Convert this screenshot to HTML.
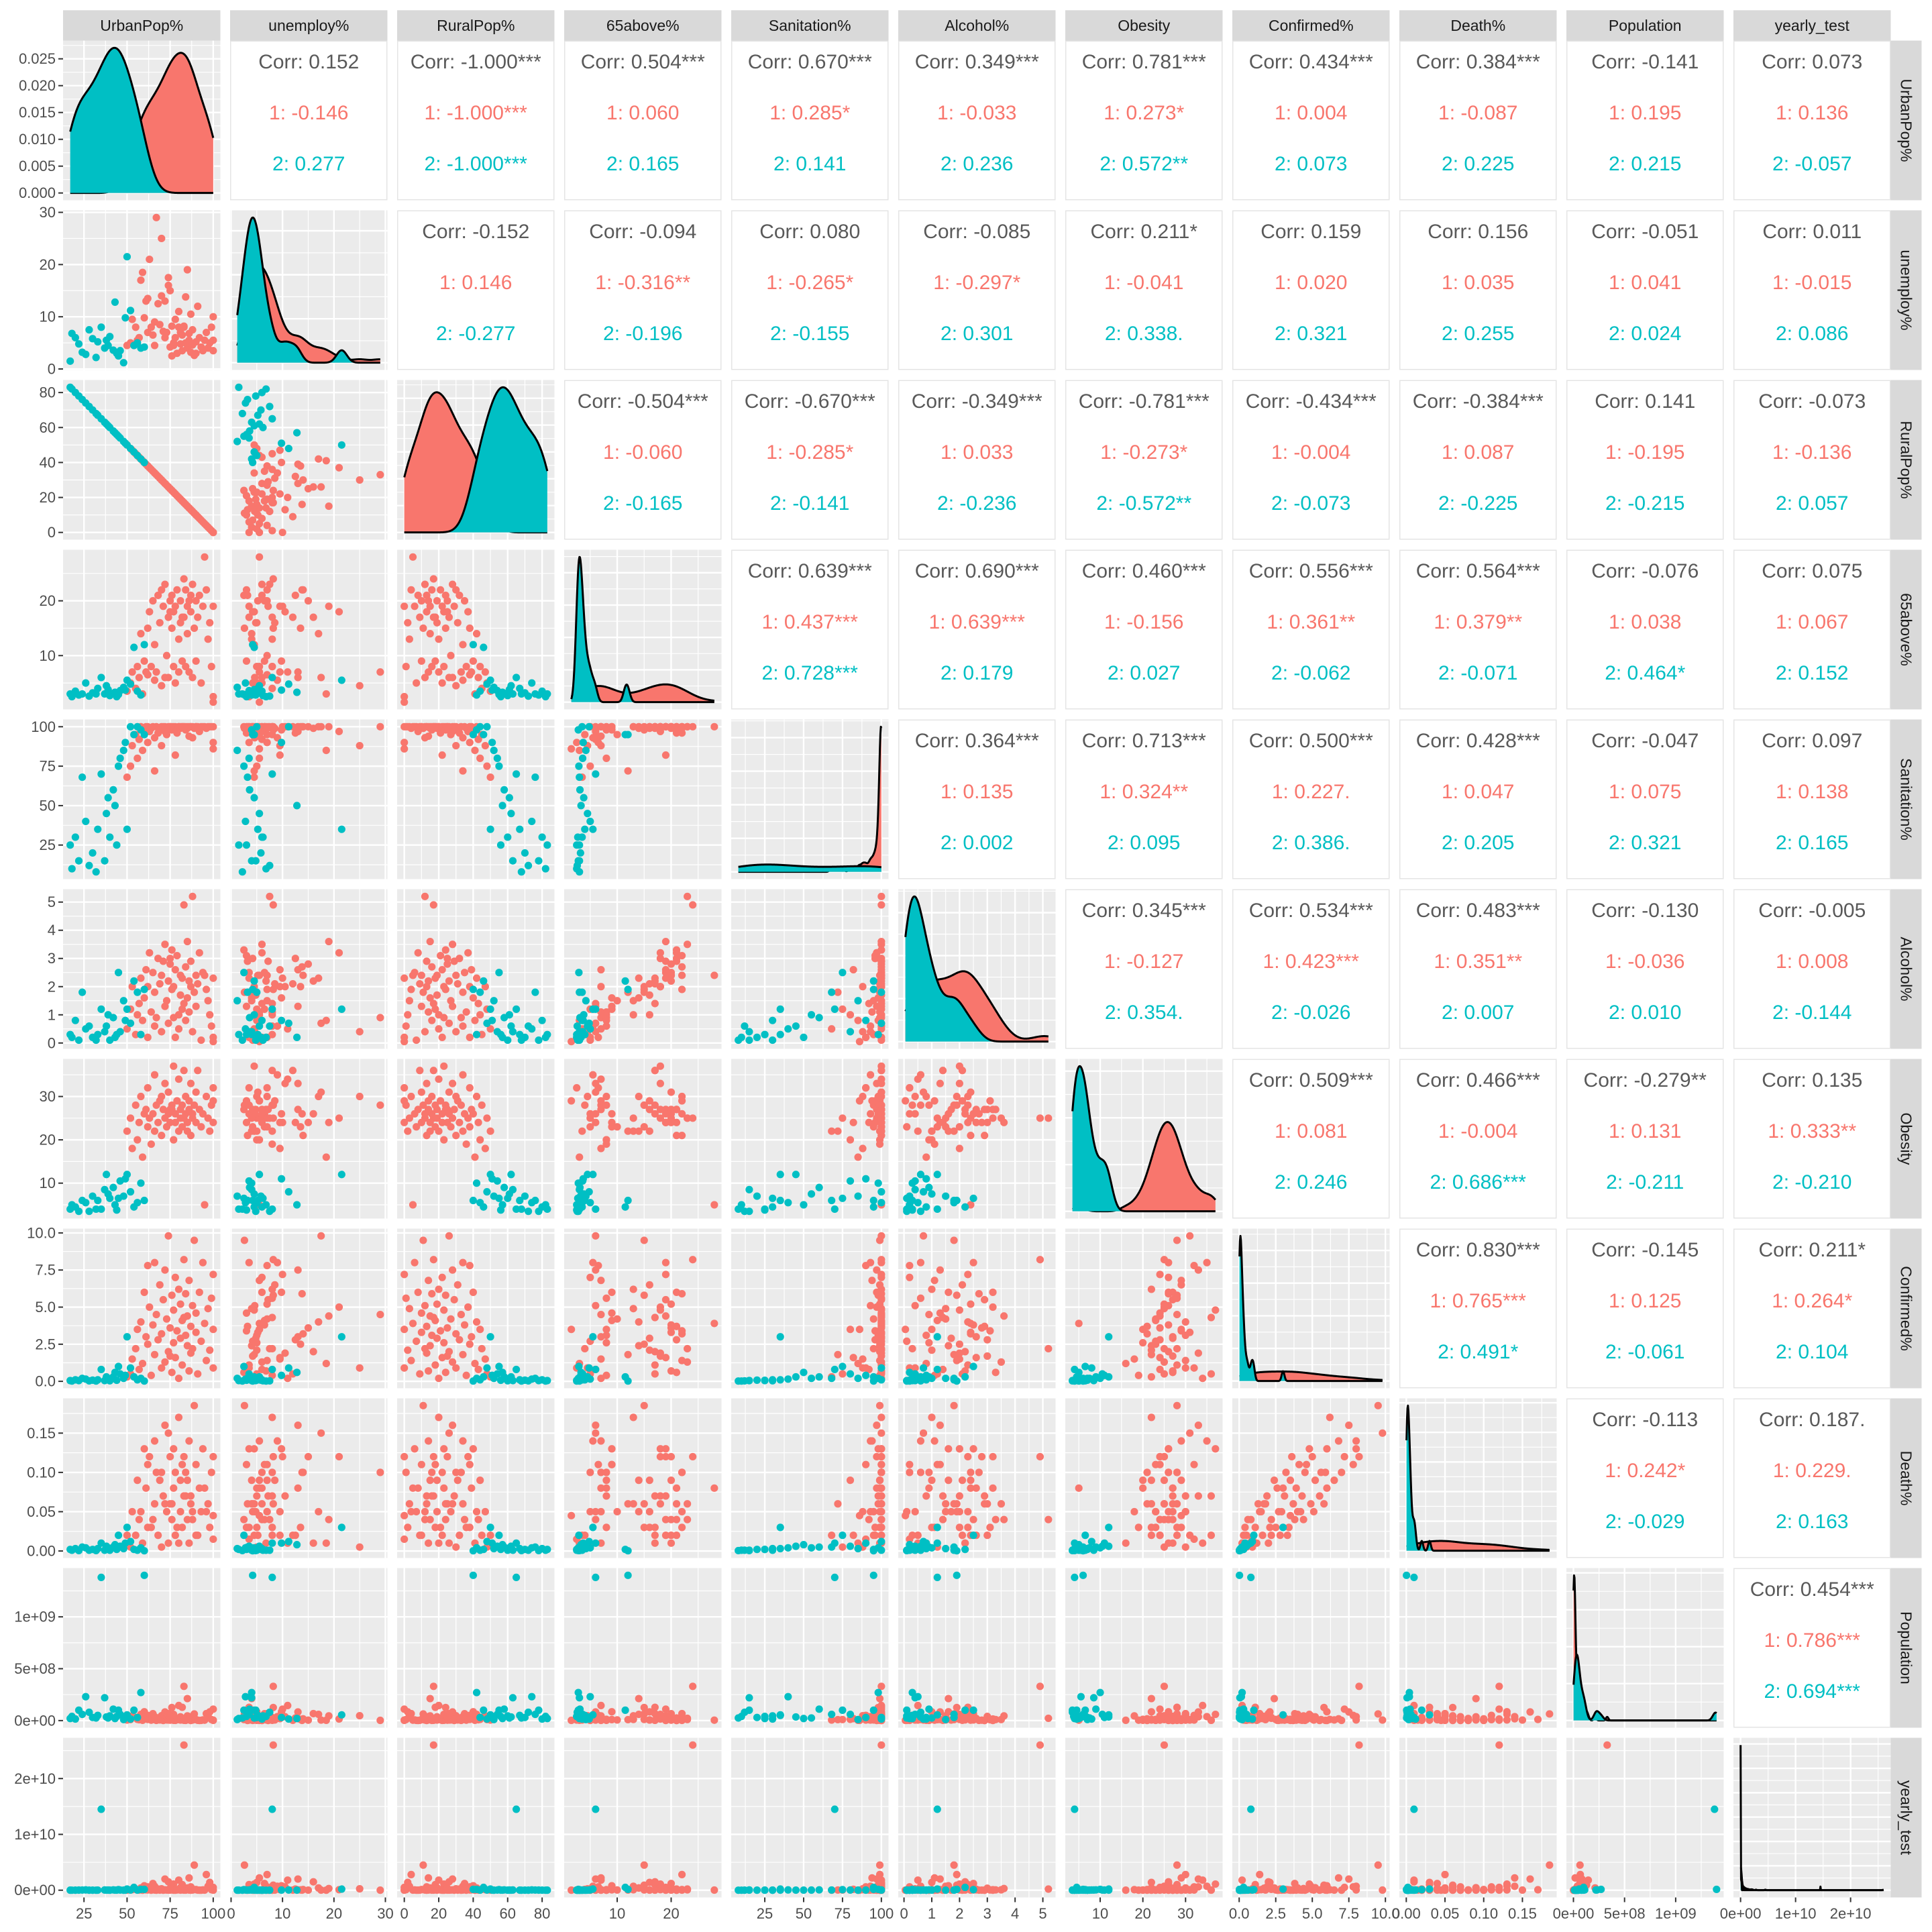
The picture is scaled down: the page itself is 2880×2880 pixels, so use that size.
<!DOCTYPE html>
<html><head><meta charset="utf-8"><title>ggpairs matrix</title>
<style>html,body{margin:0;padding:0;background:#fff}svg{display:block}text{font-family:"Liberation Sans",Arial,sans-serif}</style>
</head><body>
<svg id="chart" xmlns="http://www.w3.org/2000/svg" width="2880" height="2880" viewBox="0 0 2880 2880"></svg>
<script>
const varNames=['UrbanPop%','unemploy%','RuralPop%','65above%','Sanitation%','Alcohol%','Obesity','Confirmed%','Death%','Population','yearly_test'];

// group 1 (red)
const urbanR=[50,52,53,55,56,57,58,59,60,61,62,62,63,64,65,66,66,67,68,69,70,70,71,72,72,73,74,74,75,76,76,77,77,78,78,79,80,80,81,81,82,82,83,84,84,85,85,86,86,87,87,88,88,89,90,90,91,92,93,94,95,96,97,98,99,100,100,100,75,83];
const unempR=[4.5,5,9.5,8,5.5,6,17,18.5,9.8,13,13.5,7,21,8,6.5,9,4.5,29,12.5,8.5,25,14,7.2,13,6,7,16,17.5,15,8.2,2.5,5,4.5,9.5,6,3,8,11,7,4.8,6.5,3.5,8.2,5,13.8,4,19,6.8,5.5,3.2,10.5,4.6,7.5,2.6,5.2,3,12,6,4.2,3.5,5.5,7,4,5,8,3.5,5.5,10,4.2,8];
const a65R=[3.5,5,7,4,8,6,14,3,9,7,15,6.5,18,8,20,5.5,12,7,21,16,4.5,22,19,6,23,10,17,6,20,15,21,8,18,19,5,22,13,7,20,16,9,17,24,8,22,14,19,20,7,21,18,6,23,15,20,9,17,21,5,19,28,22,13,16,8,2.5,1.5,19,18,17];
const sanR=[68,75,88,95,80,92,100,85,98,100,100,90,97,99,100,93,72,100,96,99,88,100,100,97,100,95,99,100,100,98,100,99,100,82,100,96,100,100,99,100,100,100,100,98,100,99,100,100,94,100,100,93,100,99,100,100,100,97,100,100,100,99,100,100,100,90,86,100,100,100];
const alcR=[0.5,1.2,2.0,0.3,1.0,1.4,2.3,0.8,1.6,2.6,2.0,0.2,3.2,1.1,2.5,0.6,1.8,0.9,3.0,2.1,0.4,2.4,2.9,1.3,3.5,1.5,2.2,0.7,2.8,1.9,3.3,0.9,2.0,2.6,0.2,3.1,1.0,0.5,2.4,1.7,1.2,2.3,4.9,0.8,2.7,1.6,3.6,2.2,1.1,2.9,2.0,0.4,5.2,1.8,2.4,1.3,2.1,3.2,0.1,2.5,2.4,1.9,1.5,1.0,0.6,0.2,0.05,2.3,3.0,1.4];
const obR=[22,25,18,28,20,24,30,16,26,27,23,32,25,19,26,35,22,28,24,29,30,21,27,33,25,23,26,31,24,28,27,20,37,24,26,29,22,34,25,27,23,28,25,30,26,22,24,27,29,21,33,26,25,28,31,24,36,27,23,26,5,30,25,22,28,32,29,24,27,36];
const confR=[0.3,0.5,1.5,2.2,3.5,0.8,4,1.2,6,3,2.5,7.8,5,0.4,3.8,8,1.8,4.5,2.8,6.5,0.9,3.2,5.5,7.5,1.3,4.2,2,9.8,3.6,5.8,0.6,2.6,4.8,1.6,7,3.4,6.2,0.2,5.2,2.9,4.1,1.1,8.2,3.1,5.9,2.4,4.4,0.7,6.8,3.7,1.9,5.1,2.2,9.5,3.3,4.6,0.5,6,2.7,8,3.9,1.4,4.9,2.1,5.6,0.9,3.5,7.2,1.7,4.3];
const deathR=[0.02,0.005,0.05,0.02,0.09,0.04,0.05,0.01,0.13,0.08,0.03,0.11,0.12,0.03,0.04,0.14,0.06,0.1,0.02,0.09,0.005,0.1,0.07,0.16,0.06,0.05,0.01,0.15,0.12,0.06,0.04,0.08,0.13,0.02,0.1,0.03,0.17,0.01,0.09,0.05,0.11,0.03,0.12,0.07,0.1,0.09,0.04,0.01,0.14,0.06,0.07,0.05,0.04,0.185,0.02,0.11,0.02,0.08,0.05,0.13,0.08,0.05,0.06,0.03,0.1,0.015,0.045,0.12,0.06,0.07];
const popR_M=[5,10,45,30,12,8,60,3,85,20,11,50,15,4,66,38,9,2,25,6,47,17,1,83,10,6,67,5,4,126,10,3,60,19,2,8,11,145,36,5,9,128,330,4,2,212,45,7,17,1,37,5,22,64,9,10,3,1,2,6,4,67,46,84,10,5,2,110,40,3];
const testR_M=[5,30,100,150,40,20,400,10,800,60,50,600,90,8,1200,700,30,5,200,20,250,120,3,2000,70,40,1500,20,15,900,60,10,1100,160,8,50,80,1800,450,25,70,1000,26000,30,15,400,300,40,2200,5,600,30,200,4500,90,120,20,8,10,50,20,2800,700,1400,100,40,10,500,350,20];

// group 2 (cyan)
const urbanC=[17,18,20,22,24,26,30,33,35,37,38,39,40,42,43,45,46,48,49,50,52,54,56,58,60,28,32,44];
const unempC=[1.5,6.8,6,4.8,3.2,2.8,5.8,5.2,8,4,5.5,4.5,6.2,3.6,12.8,2.5,3.5,1.2,9.8,21.5,11.2,4.5,5,4,4.2,7.5,2.2,3];
const a65C=[3,2.5,3.5,2.8,3,5,3.2,4,6,3,4.5,3.8,2.7,3.1,3.3,2.9,3.6,4.2,3.7,5.5,4.8,11.5,3.5,2.8,12,2.6,3,2.5];
const sanC=[25,10,30,15,68,40,20,35,70,15,45,55,30,60,50,75,80,85,90,35,100,95,100,98,95,12,8,25];
const alcC=[0.3,0.2,0.8,0.1,1.8,0.5,0.2,0.3,1.2,0.4,0.6,1.0,0.1,0.9,0.2,2.5,0.4,1.5,0.8,1.2,0.7,2.2,1.8,0.3,1.9,0.6,0.1,0.3];
const obC=[4,5,4.5,3.5,6,5.5,7,6,4,8.5,12,7.5,6.5,9,5,6.5,10.5,7,11,12,8,4.5,5.5,10,6,3.5,4,3.8];
const confC=[0.05,0.02,0.1,0.05,0.2,0.15,0.08,0.1,0.8,0.05,0.3,0.2,0.04,0.3,0.6,1.0,0.5,0.2,0.4,3.0,0.9,0.3,0.1,0.2,0.02,0.03,0.02,0.07];
const deathC=[0.002,0.001,0.003,0.0005,0.005,0.004,0.002,0.003,0.01,0.001,0.006,0.004,0.001,0.005,0.008,0.02,0.006,0.003,0.01,0.03,0.012,0.002,0.001,0.004,0.0003,0.001,0.0005,0.002];
const popC_M=[20,40,15,100,60,230,30,50,1380,220,35,25,45,110,20,100,60,10,30,55,15,100,30,270,1400,80,25,40];
const testC_M=[5,3,10,20,30,50,8,12,14500,40,15,20,10,60,18,100,30,5,25,200,40,500,20,150,150,10,2,15];

// tick values & labels
const tickVals=[[25,50,75,100],[0,10,20,30],[0,20,40,60,80],[0,10,20],[25,50,75,100],[0,1,2,3,4,5],[10,20,30],[0,2.5,5,7.5,10],[0,0.05,0.10,0.15],[0,5e8,1e9],[0,1e10,2e10]];
const tickLabels=[['25','50','75','100'],['0','10','20','30'],['0','20','40','60','80'],['0','10','20'],['25','50','75','100'],['0','1','2','3','4','5'],['10','20','30'],['0.0','2.5','5.0','7.5','10.0'],['0.00','0.05','0.10','0.15'],['0e+00','5e+08','1e+09'],['0e+00','1e+10','2e+10']];

// correlation labels (upper triangle, row-major)
const corrAll=['0.152','-1.000***','0.504***','0.670***','0.349***','0.781***','0.434***','0.384***','-0.141','0.073',
'-0.152','-0.094','0.080','-0.085','0.211*','0.159','0.156','-0.051','0.011',
'-0.504***','-0.670***','-0.349***','-0.781***','-0.434***','-0.384***','0.141','-0.073',
'0.639***','0.690***','0.460***','0.556***','0.564***','-0.076','0.075',
'0.364***','0.713***','0.500***','0.428***','-0.047','0.097',
'0.345***','0.534***','0.483***','-0.130','-0.005',
'0.509***','0.466***','-0.279**','0.135',
'0.830***','-0.145','0.211*',
'-0.113','0.187.',
'0.454***'];
const corr1=['-0.146','-1.000***','0.060','0.285*','-0.033','0.273*','0.004','-0.087','0.195','0.136',
'0.146','-0.316**','-0.265*','-0.297*','-0.041','0.020','0.035','0.041','-0.015',
'-0.060','-0.285*','0.033','-0.273*','-0.004','0.087','-0.195','-0.136',
'0.437***','0.639***','-0.156','0.361**','0.379**','0.038','0.067',
'0.135','0.324**','0.227.','0.047','0.075','0.138',
'-0.127','0.423***','0.351**','-0.036','0.008',
'0.081','-0.004','0.131','0.333**',
'0.765***','0.125','0.264*',
'0.242*','0.229.',
'0.786***'];
const corr2=['0.277','-1.000***','0.165','0.141','0.236','0.572**','0.073','0.225','0.215','-0.057',
'-0.277','-0.196','-0.155','0.301','0.338.','0.321','0.255','0.024','0.086',
'-0.165','-0.141','-0.236','-0.572**','-0.073','-0.225','-0.215','0.057',
'0.728***','0.179','0.027','-0.062','-0.071','0.464*','0.152',
'0.002','0.095','0.386.','0.205','0.321','0.165',
'0.354.','-0.026','0.007','0.010','-0.144',
'0.246','0.686***','-0.211','-0.210',
'0.491*','-0.061','0.104',
'-0.029','0.163',
'0.694***'];

const RED='#F8766D', CYAN='#00BFC4';
const NS='http://www.w3.org/2000/svg';
const svg=document.getElementById('chart');
function mk(tag,attrs,parent){const e=document.createElementNS(NS,tag);for(const k in attrs)e.setAttribute(k,attrs[k]);(parent||svg).appendChild(e);return e;}

const varsR=[urbanR,unempR,urbanR.map(v=>100-v),a65R,sanR,alcR,obR,confR,deathR,popR_M.map(v=>v*1e6),testR_M.map(v=>v*1e6)];
const varsC=[urbanC,unempC,urbanC.map(v=>100-v),a65C,sanC,alcC,obC,confC,deathC,popC_M.map(v=>v*1e6),testC_M.map(v=>v*1e6)];
const nR=Math.min(...varsR.map(a=>a.length)), nC=Math.min(...varsC.map(a=>a.length));

const PX0=94, PSTEP=249, W=234.5, PY0=60.5, RSTEP=253, H=238, NV=11;
const colX=j=>PX0+PSTEP*j, rowY=i=>PY0+RSTEP*i;

const ext=varNames.map((_,k)=>{const a=varsR[k].slice(0,nR).concat(varsC[k].slice(0,nC));return [Math.min(...a),Math.max(...a)];});
const dom=ext.map(([mn,mx])=>{const r=(mx-mn)||1;return [mn-0.05*r,mx+0.05*r];});
const sx=(k,j,v)=>colX(j)+(v-dom[k][0])/(dom[k][1]-dom[k][0])*W;
const sy=(k,i,v)=>rowY(i)+H-(v-dom[k][0])/(dom[k][1]-dom[k][0])*H;

function minors(t,d){const m=[];if(t.length<2)return m;const s=t[1]-t[0];m.push(t[0]-s/2);for(let q=0;q<t.length-1;q++)m.push((t[q]+t[q+1])/2);m.push(t[t.length-1]+s/2);return m.filter(v=>v>d[0]&&v<d[1]);}
function niceStep(mx){const raw=mx/6;const mag=Math.pow(10,Math.floor(Math.log10(raw)));for(const c of [1,2,2.5,5,10]){if(c*mag>=raw)return c*mag;}return 10*mag;}
function quant(s,p){const h=(s.length-1)*p;const lo=Math.floor(h);return s[lo]+(h-lo)*((s[Math.min(lo+1,s.length-1)])-s[lo]);}
function kde(arr,lo,hi){const n=arr.length;const mean=arr.reduce((a,b)=>a+b,0)/n;const sd=Math.sqrt(arr.reduce((a,b)=>a+(b-mean)*(b-mean),0)/(n-1));const s=arr.slice().sort((a,b)=>a-b);const iqr=quant(s,0.75)-quant(s,0.25);let lim=Math.min(sd,iqr/1.34);if(!(lim>0))lim=sd||Math.abs(s[0])||1;const bw=0.9*lim*Math.pow(n,-0.2);const xs=[],ys=[];const N=300;for(let q=0;q<N;q++){const x=lo+(hi-lo)*q/(N-1);let d=0;for(const v of arr){const z=(x-v)/bw;d+=Math.exp(-0.5*z*z);}xs.push(x);ys.push(d/(n*bw*Math.sqrt(2*Math.PI)));}return {xs,ys};}

const defs=mk('defs',{});
let densScaleRow0=null;

for(let i=0;i<NV;i++){
  for(let j=0;j<NV;j++){
    const x0=colX(j), y0=rowY(i);
    const g=mk('g',{});
    
    
    if(i<j){
      const r=mk('rect',{x:x0+0.75,y:y0+0.75,width:W-1.5,height:H-1.5,fill:'#fff',stroke:'#E4E4E4','stroke-width':1.5},g);
      
      
      const idx=(()=>{let c=0;for(let a=0;a<i;a++)c+=NV-1-a;return c+(j-i-1);})();
      const texts=[['Corr: '+corrAll[idx],'#595959',32],['1: '+corr1[idx],RED,108],['2: '+corr2[idx],CYAN,184]];
      texts.forEach((t,q)=>{const tx=mk('text',{x:x0+W/2,y:y0+t[2],'text-anchor':'middle','dominant-baseline':'central','font-size':30,fill:t[1]},g);tx.textContent=t[0];
        
        });
      continue;
    }
    const cid='clip'+i+'_'+j;
    const cp=mk('clipPath',{id:cid},defs);mk('rect',{x:x0,y:y0,width:W,height:H},cp);
    const bg=mk('rect',{x:x0,y:y0,width:W,height:H,fill:'#EBEBEB'},g);
    
    
    const gg=mk('g',{'clip-path':'url(#'+cid+')'},g);
    minors(tickVals[j],dom[j]).forEach(v=>{const X=sx(j,j,v);mk('line',{x1:X,x2:X,y1:y0,y2:y0+H,stroke:'#fff','stroke-width':1.2},gg);});
    tickVals[j].forEach(v=>{const X=sx(j,j,v);mk('line',{x1:X,x2:X,y1:y0,y2:y0+H,stroke:'#fff','stroke-width':2.4},gg);});
    if(i===j){
      const k=i;const lo=ext[k][0],hi=ext[k][1];
      const dR=kde(varsR[k].slice(0,nR),lo,hi), dC=kde(varsC[k].slice(0,nC),lo,hi);
      const mx=Math.max(...dR.ys,...dC.ys);
      const yd=[-0.05*mx,1.05*mx];
      const syd=v=>y0+H-(v-yd[0])/(yd[1]-yd[0])*H;
      const st=niceStep(mx);const dt=[];for(let v=0;v<=yd[1]+1e-12;v+=st)dt.push(v);
      if(i===0)densScaleRow0={syd,dt,st};
      minors(dt.concat([dt[dt.length-1]+st]),yd).forEach(v=>{const Y=syd(v);mk('line',{x1:x0,x2:x0+W,y1:Y,y2:Y,stroke:'#fff','stroke-width':1.2},gg);});
      dt.forEach(v=>{const Y=syd(v);mk('line',{x1:x0,x2:x0+W,y1:Y,y2:Y,stroke:'#fff','stroke-width':2.4},gg);});
      [[dR,RED,'density-group-1'],[dC,CYAN,'density-group-2']].forEach(([d,col,nm])=>{
        let p='M'+sx(k,j,d.xs[0])+','+syd(0);let l='';
        d.xs.forEach((x,q)=>{p+=' L'+sx(k,j,x).toFixed(2)+','+syd(d.ys[q]).toFixed(2);l+=(q?' L':'M')+sx(k,j,x).toFixed(2)+','+syd(d.ys[q]).toFixed(2);});
        p+=' L'+sx(k,j,d.xs[d.xs.length-1])+','+syd(0)+' Z';
        const a=mk('path',{d:p,fill:col},gg);
        
        
        const ln=mk('path',{d:l,fill:'none',stroke:'#000','stroke-width':3,'stroke-linejoin':'round'},gg);
        
        
      });
    } else {
      minors(tickVals[i],dom[i]).forEach(v=>{const Y=sy(i,i,v);mk('line',{x1:x0,x2:x0+W,y1:Y,y2:Y,stroke:'#fff','stroke-width':1.2},gg);});
      tickVals[i].forEach(v=>{const Y=sy(i,i,v);mk('line',{x1:x0,x2:x0+W,y1:Y,y2:Y,stroke:'#fff','stroke-width':2.4},gg);});
      for(let q=0;q<nR;q++){const c=mk('circle',{cx:sx(j,j,varsR[j][q]),cy:sy(i,i,varsR[i][q]),r:5.6,fill:RED},gg);
        
        }
      for(let q=0;q<nC;q++){const c=mk('circle',{cx:sx(j,j,varsC[j][q]),cy:sy(i,i,varsC[i][q]),r:5.6,fill:CYAN},gg);
        
        }
    }
  }
}

for(let j=0;j<NV;j++){
  const r=mk('rect',{x:colX(j),y:15.3,width:W,height:45.2,fill:'#D9D9D9'});
  
  
  const t=mk('text',{x:colX(j)+W/2,y:38,'text-anchor':'middle','dominant-baseline':'central','font-size':23,fill:'#1A1A1A'});
  t.textContent=varNames[j];
  
  
}
for(let i=0;i<NV;i++){
  const r=mk('rect',{x:2818.5,y:rowY(i),width:46,height:H,fill:'#D9D9D9'});
  
  
  const cx=2841.5, cy=rowY(i)+H/2;
  const t=mk('text',{x:cx,y:cy,'text-anchor':'middle','dominant-baseline':'central','font-size':23,fill:'#1A1A1A',transform:'rotate(90 '+cx+' '+cy+')'});
  t.textContent=varNames[i];
  
  
}
for(let i=0;i<NV;i++){
  let items;
  if(i===0){const d=densScaleRow0;items=d.dt.map(v=>[d.syd(v),v.toFixed(3)]);}
  else items=tickVals[i].map((v,q)=>[sy(i,i,v),tickLabels[i][q]]).filter(a=>a[0]>=rowY(i)-1&&a[0]<=rowY(i)+H+1);
  items.forEach(([Y,lab])=>{
    const tk=mk('line',{x1:87,x2:94,y1:Y,y2:Y,stroke:'#333','stroke-width':2});
    
    
    const t=mk('text',{x:83,y:Y,'text-anchor':'end','dominant-baseline':'central','font-size':22,fill:'#4D4D4D'});
    t.textContent=lab;
    
    
  });
}
const yb=rowY(NV-1)+H;
for(let j=0;j<NV;j++){
  tickVals[j].forEach((v,q)=>{
    const X=sx(j,j,v);if(X<colX(j)-1||X>colX(j)+W+1)return;
    const tk=mk('line',{x1:X,x2:X,y1:yb,y2:yb+7,stroke:'#333','stroke-width':2});
    
    
    const t=mk('text',{x:X,y:yb+24,'text-anchor':'middle','dominant-baseline':'central','font-size':22,fill:'#4D4D4D'});
    t.textContent=tickLabels[j][q];
    
    
  });
}
</script>
</body></html>
